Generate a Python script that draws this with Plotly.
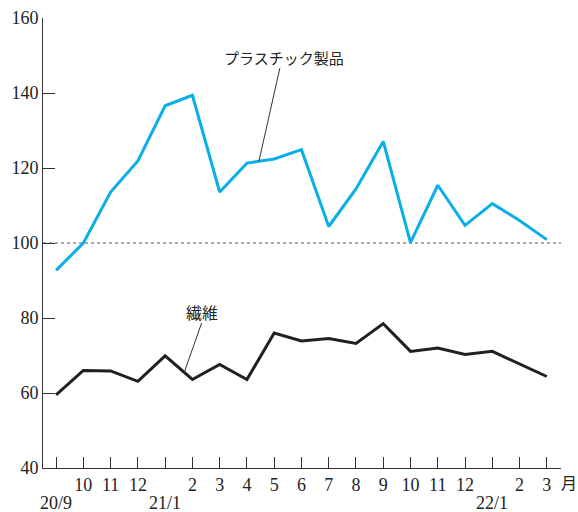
import plotly.graph_objects as go

# ---- data ----
periods = ["20/9", "20/10", "20/11", "20/12", "21/1", "21/2", "21/3", "21/4", "21/5",
           "21/6", "21/7", "21/8", "21/9", "21/10", "21/11", "21/12", "22/1", "22/2", "22/3"]
month_labels = ["", "10", "11", "12", "", "2", "3", "4", "5", "6", "7", "8", "9",
                "10", "11", "12", "", "2", "3"]
year_labels = ["20/9", "21/1", "22/1"]
year_label_idx = [0, 4, 16]

plastic = [92.7, 100.0, 113.6, 121.9, 136.6, 139.4, 113.6, 121.3, 122.4, 124.9,
           104.4, 114.4, 127.1, 100.1, 115.4, 104.7, 110.5, 106.0, 100.9]
fiber = [59.5, 66.0, 65.9, 63.1, 69.9, 63.6, 67.6, 63.6, 76.0, 73.9,
         74.5, 73.2, 78.5, 71.1, 72.0, 70.3, 71.1, 67.8, 64.4]

y_ticks = [40, 60, 80, 100, 120, 140, 160]
baseline = 100

x = list(range(len(periods)))
x_range = [-0.48, 18.52]

SERIF = "Liberation Serif"
CJK = "Noto Sans CJK JP"
AX = "#333333"
TXT = "#222222"

fig = go.Figure()
fig.add_trace(go.Scatter(x=x, y=plastic, mode="lines", name="プラスチック製品",
                         line=dict(color="#0AAFE8", width=3), showlegend=False,
                         hoverinfo="skip"))
fig.add_trace(go.Scatter(x=x, y=fiber, mode="lines", name="繊維",
                         line=dict(color="#231F20", width=3), showlegend=False,
                         hoverinfo="skip"))

# baseline 100 dotted
fig.add_shape(type="line", xref="paper", yref="y", x0=0, x1=1, y0=baseline, y1=baseline,
              line=dict(color="#555555", width=1.2, dash="dot"), layer="below")

# leader lines (from series points to labels)
def lerp(arr, t):
    i = int(t)
    f = t - i
    return arr[i] * (1 - f) + arr[i + 1] * f

p_t = 7.44
fig.add_shape(type="line", xref="x", yref="y", x0=p_t, y0=lerp(plastic, p_t), x1=8.21, y1=146.7,
              line=dict(color="#333333", width=1))
f_t = 4.70
fig.add_shape(type="line", xref="x", yref="y", x0=f_t, y0=lerp(fiber, f_t), x1=5.34, y1=78.7,
              line=dict(color="#333333", width=1))

def to_paper(v):
    return (v - x_range[0]) / (x_range[1] - x_range[0])

annotations = [
    dict(x=8.35, y=149.5, xref="x", yref="y", text="プラスチック製品", showarrow=False,
         font=dict(family=CJK, size=15, color=TXT), xanchor="center", yanchor="middle"),
    dict(x=5.37, y=81.5, xref="x", yref="y", text="繊維", showarrow=False,
         font=dict(family=CJK, size=16, color=TXT), xanchor="center", yanchor="middle"),
    dict(x=to_paper(18.82), y=0, xref="paper", yref="paper", yshift=-14, text="月",
         showarrow=False, font=dict(family=CJK, size=16, color=TXT),
         xanchor="center", yanchor="middle"),
]
for lab, idx in zip(year_labels, year_label_idx):
    annotations.append(dict(x=idx, y=0, xref="x", yref="paper", yshift=-35, text=lab,
                            showarrow=False, font=dict(family=SERIF, size=18, color=TXT),
                            xanchor="center", yanchor="middle"))

fig.update_layout(
    width=578, height=512,
    margin=dict(l=43, r=17, t=18, b=44, autoexpand=False),
    paper_bgcolor="white", plot_bgcolor="white",
    annotations=annotations,
    hovermode=False,
    xaxis=dict(range=x_range, tickmode="array", tickvals=x, ticktext=month_labels,
               ticks="inside", ticklen=11, tickcolor=AX, tickwidth=1,
               showline=True, linecolor=AX, linewidth=1, showgrid=False, zeroline=False,
               tickfont=dict(family=SERIF, size=18, color=TXT), automargin=False),
    yaxis=dict(range=[40, 160], tickmode="array", tickvals=y_ticks,
               ticks="inside", ticklen=12, tickcolor=AX, tickwidth=1,
               showline=True, linecolor=AX, linewidth=1, showgrid=False, zeroline=False,
               tickfont=dict(family=SERIF, size=18, color=TXT), automargin=False),
)

fig.write_html("out.html", config={"displayModeBar": False},
               post_script="document.body.style.margin='0';")
